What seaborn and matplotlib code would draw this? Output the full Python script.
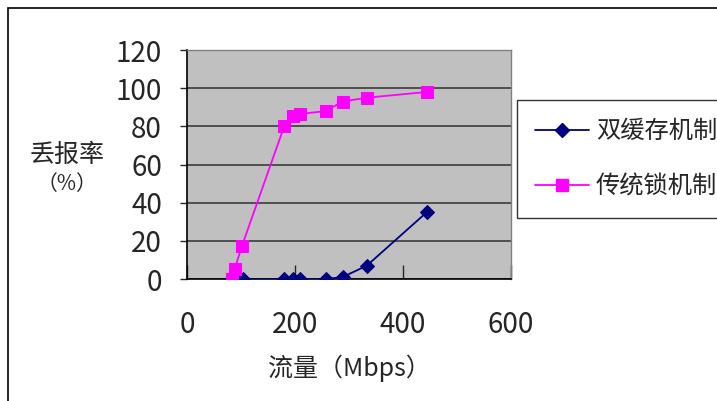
import pandas as pd
import matplotlib
matplotlib.use("Agg")
import matplotlib.pyplot as plt
import seaborn as sns
from matplotlib.lines import Line2D
from matplotlib.patches import Rectangle

# data
flow_double = [104, 180, 196, 210, 257, 288, 333, 444]
loss_double = [0, 0, 0, 0, 0, 1, 7, 35]
flow_lock = [84, 88, 102, 180, 196, 210, 257, 288, 333, 444]
loss_lock = [0, 5, 17.5, 80, 85.5, 86.5, 88, 93, 95, 98]
series_names = ["双缓存机制", "传统锁机制"]
x_ticks = [0, 200, 400, 600]
y_ticks = [0, 20, 40, 60, 80, 100, 120]

sns.set_style("white")
plt.rcParams["font.family"] = ["Noto Sans CJK SC", "DejaVu Sans"]

df_double = pd.DataFrame({"flow": flow_double, "loss": loss_double})
df_lock = pd.DataFrame({"flow": flow_lock, "loss": loss_lock})

fig = plt.figure(figsize=(7.17, 4.01), dpi=100)
ax = fig.add_axes([0.2608, 0.3042, 0.4519, 0.5711])
ax.set_facecolor("#C0C0C0")

navy = "#000080"
pink = "#FF00FF"
sns.lineplot(data=df_double, x="flow", y="loss", ax=ax, color=navy, marker="D",
             markersize=7, markeredgecolor=navy, linewidth=1.3, sort=False, zorder=3)
sns.lineplot(data=df_lock, x="flow", y="loss", ax=ax, color=pink, marker="s",
             markersize=9, markeredgecolor=pink, linewidth=1.3, sort=False, zorder=4)

ax.set_xlim(0, 600)
ax.set_ylim(0, 120)
ax.set_xticks(x_ticks)
ax.set_yticks(y_ticks)
ax.yaxis.grid(True, color="#303030", linewidth=1.1)
ax.xaxis.grid(False)
ax.set_axisbelow(True)

for side in ["left", "bottom"]:
    ax.spines[side].set_color("black")
    ax.spines[side].set_linewidth(1.2)
for side in ["top", "right"]:
    ax.spines[side].set_visible(True)
    ax.spines[side].set_color("#808080")
    ax.spines[side].set_linewidth(1.0)

ax.tick_params(axis="x", direction="in", length=10, width=1, pad=22, labelsize=20)
ax.tick_params(axis="y", direction="out", length=5, width=1, pad=13, labelsize=20)
ax.tick_params(left=True, bottom=True)

ax.set_xlabel("流量（Mbps）", fontsize=18, labelpad=11)
ax.set_ylabel("丢报率", fontsize=18, rotation=0, ha="center", va="center")
ax.yaxis.set_label_coords(-0.37, 0.54)
ax.text(-0.37, 0.415, "（%）", transform=ax.transAxes, fontsize=15,
        ha="center", va="center")

handles = [
    Line2D([], [], color=navy, marker="D", markersize=7, linewidth=1.3),
    Line2D([], [], color=pink, marker="s", markersize=9, linewidth=1.3),
]
leg = fig.legend(handles, series_names, loc="upper left",
                 bbox_to_anchor=(517 / 717, 1 - 100 / 401), borderaxespad=0,
                 fontsize=17.5, frameon=True, fancybox=False, edgecolor="black",
                 handlelength=2.2, handletextpad=0.3, labelspacing=1.2,
                 borderpad=0.75)
leg.get_frame().set_linewidth(1.0)

# outer chart border
fig.patches.append(Rectangle((8 / 717, -0.1), 1.2, 1 - 8 / 401 + 0.1,
                             transform=fig.transFigure, fill=False,
                             edgecolor="black", linewidth=1.2))

fig.savefig("out.png", dpi=100)
